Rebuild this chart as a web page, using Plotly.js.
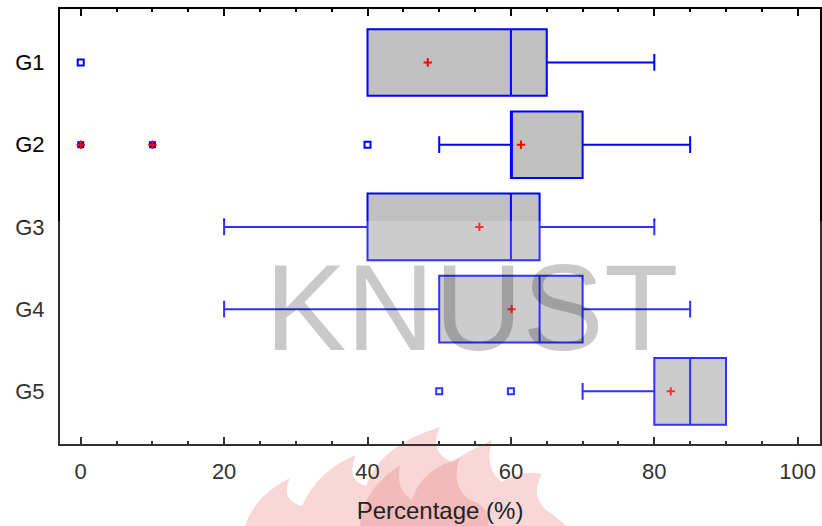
<!DOCTYPE html>
<html>
<head>
<meta charset="utf-8">
<script src="https://cdn.plot.ly/plotly-3.0.1.min.js"></script>
<style>html,body{margin:0;padding:0;background:#fff;}#chart{width:822px;height:526px;}</style>
</head>
<body>
<div id="chart"></div>
<script>
// ---- data ----
var groups     = ['G1', 'G2', 'G3', 'G4', 'G5'];
var q1         = [40, 60, 40, 50, 80];
var median     = [60, 60, 60, 64, 85];
var q3         = [65, 70, 64, 70, 90];
var lowerFence = [40, 50, 20, 20, 70];
var upperFence = [80, 85, 80, 85, 90];
var means      = [48.4, 61.4, 55.6, 60.1, 82.3];
var outlierX   = [0, 40, 50, 60];
var outlierG   = ['G1', 'G2', 'G5', 'G5'];
var extremeX   = [0, 10];
var extremeG   = ['G2', 'G2'];
var xTicks     = [0, 20, 40, 60, 80, 100];

// ---- geometry helpers (pixel -> paper) ----
var L = 60, R = 2, T = 9, B = 82, W = 822, H = 526;
var pw = W - L - R, ph = H - T - B;
function px(x) { return ((x - L) / pw).toFixed(4); }
function py(y) { return ((H - B - y) / ph).toFixed(4); }
function pathFrom(pts) {
  var s = '';
  pts.forEach(function (p) {
    if (p[0] === 'M' || p[0] === 'L') s += p[0] + px(p[1]) + ',' + py(p[2]) + ' ';
    else if (p[0] === 'Q') s += 'Q' + px(p[1]) + ',' + py(p[2]) + ' ' + px(p[3]) + ',' + py(p[4]) + ' ';
  });
  return s + 'Z';
}
var flameOuter = pathFrom([
  ['M', 245, 526], ['Q', 255, 495, 290, 478], ['Q', 280, 500, 302, 506],
  ['Q', 318, 470, 356, 455], ['Q', 345, 480, 366, 486], ['Q', 380, 445, 440, 427],
  ['Q', 428, 452, 452, 462], ['Q', 470, 450, 492, 440], ['Q', 484, 470, 502, 482],
  ['Q', 520, 470, 542, 474], ['Q', 530, 496, 546, 510], ['Q', 556, 516, 566, 526]
]);
var flameInner = pathFrom([
  ['M', 360, 526], ['Q', 362, 490, 400, 465], ['Q', 395, 490, 412, 500],
  ['Q', 420, 470, 460, 458], ['Q', 450, 485, 470, 500], ['Q', 490, 505, 488, 526]
]);

var boxTrace = {
  type: 'box', orientation: 'h', y: groups,
  q1: q1, median: median, q3: q3,
  lowerfence: lowerFence, upperfence: upperFence,
  boxpoints: false, width: 0.81, whiskerwidth: 0.25,
  fillcolor: '#c0c0c0', line: {color: '#0000ff', width: 2},
  hoverinfo: 'skip', showlegend: false
};
var outlierTrace = {
  type: 'scatter', mode: 'markers', x: outlierX, y: outlierG,
  marker: {symbol: 'square-open', size: 6, color: '#0000ff', line: {width: 2, color: '#0000ff'}},
  showlegend: false, hoverinfo: 'skip'
};
var extremeTrace = {
  type: 'scatter', mode: 'markers', x: extremeX, y: extremeG,
  marker: {symbol: 'square', size: 7, color: '#0000ff', line: {width: 0}},
  showlegend: false, hoverinfo: 'skip'
};
var extremeCross = {
  type: 'scatter', mode: 'markers', x: extremeX, y: extremeG,
  marker: {symbol: 'cross-thin-open', size: 6, color: '#ff0000', line: {width: 2, color: '#ff0000'}},
  showlegend: false, hoverinfo: 'skip'
};
var meanTrace = {
  type: 'scatter', mode: 'markers', x: means, y: groups,
  marker: {symbol: 'cross-thin-open', size: 6, color: '#ff0000', line: {width: 2, color: '#ff0000'}},
  showlegend: false, hoverinfo: 'skip'
};

var layout = {
  width: W, height: H,
  margin: {l: L, r: R, t: T, b: B},
  paper_bgcolor: '#ffffff', plot_bgcolor: '#ffffff',
  font: {family: 'Arial, "Liberation Sans", sans-serif', color: '#000000'},
  showlegend: false,
  xaxis: {
    range: [-2.89, 103.11], tickvals: xTicks, ticktext: xTicks.map(String),
    ticks: 'inside', ticklen: 7, tickwidth: 2, tickcolor: '#000',
    minor: {dtick: 5, tick0: 0, ticks: 'inside', ticklen: 3, tickwidth: 2, tickcolor: '#000', showgrid: false},
    showline: true, linecolor: '#000', linewidth: 2, mirror: 'ticks',
    showgrid: false, zeroline: false,
    tickfont: {size: 22, color: '#000'}, ticklabelstandoff: 7,
    title: {text: 'Percentage (%)', font: {size: 24, color: '#222'}, standoff: 19}
  },
  yaxis: {
    type: 'category', range: [4.64, -0.65],
    categoryorder: 'array', categoryarray: groups,
    ticks: '', showline: true, linecolor: '#000', linewidth: 2, mirror: true,
    showgrid: false, zeroline: false,
    tickfont: {size: 22, color: '#000'}, ticklabelstandoff: 9
  },
  shapes: [
    {type: 'path', xref: 'paper', yref: 'paper', path: flameOuter, fillcolor: 'rgba(230,80,80,0.28)', line: {width: 0}, layer: 'below'},
    {type: 'path', xref: 'paper', yref: 'paper', path: flameInner, fillcolor: 'rgba(215,50,50,0.22)', line: {width: 0}, layer: 'below'},
    {type: 'rect', xref: 'paper', yref: 'paper', x0: px(0), x1: px(W), y0: py(H), y1: py(221),
     fillcolor: 'rgba(255,255,255,0.19)', line: {width: 0}, layer: 'above'}
  ],
  annotations: [
    {text: 'KNUST', xref: 'paper', yref: 'paper', x: px(471), y: py(308), xanchor: 'center', yanchor: 'middle',
     showarrow: false, font: {family: 'Arial, "Liberation Sans", sans-serif', size: 122, color: 'rgba(0,0,0,0.21)'}}
  ]
};

Plotly.newPlot('chart', [boxTrace, outlierTrace, extremeTrace, extremeCross, meanTrace], layout, {displayModeBar: false, staticPlot: true});
</script>
</body>
</html>
